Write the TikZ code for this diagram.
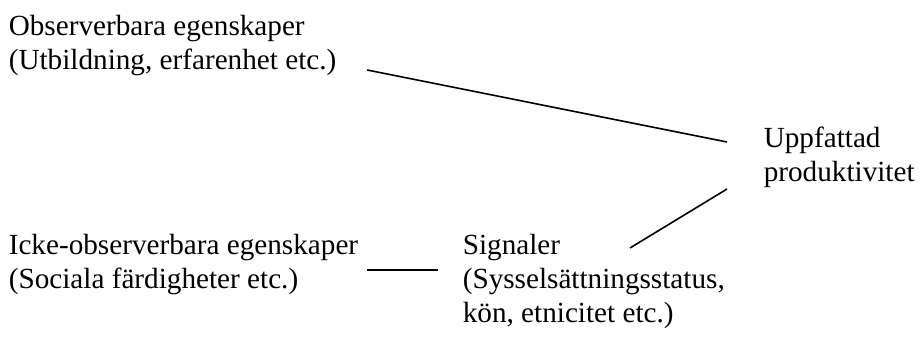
\documentclass[tikz,border=0pt]{standalone}
\usepackage{fontspec}
\setmainfont{Liberation Serif}
\usetikzlibrary{positioning,calc}

\begin{document}
\begin{tikzpicture}[x=0.5pt, y=-0.5pt, line width=0.8pt, every node/.style={inner sep=0pt, align=left, anchor=north west, font=\fontsize{14.6}{17}\selectfont}]
\useasboundingbox (0,0) rectangle (921,337);
\node (obs) at (8,14) {Observerbara egenskaper\\(Utbildning, erfarenhet etc.)};
\node (prod) at (763,126) {Uppfattad\\produktivitet};
\node (unobs) at (8,233) {Icke-observerbara egenskaper\\(Sociala färdigheter etc.)};
\node (signal) at (462,233) {Signaler\\(Sysselsättningsstatus,\\kön, etnicitet etc.)};
% lines between the boxes
\draw ([xshift=15pt,yshift=-28pt]obs.north east) -- ([xshift=-18pt,yshift=-8pt]prod.north west);
\draw ([xshift=4pt,yshift=-18.5pt]unobs.north east) -- ([xshift=-12pt,yshift=-18.5pt]signal.north west);
\draw ([xshift=84pt,yshift=-7.5pt]signal.north west) -- ([xshift=-18pt,yshift=-31.5pt]prod.north west);
\end{tikzpicture}
\end{document}
